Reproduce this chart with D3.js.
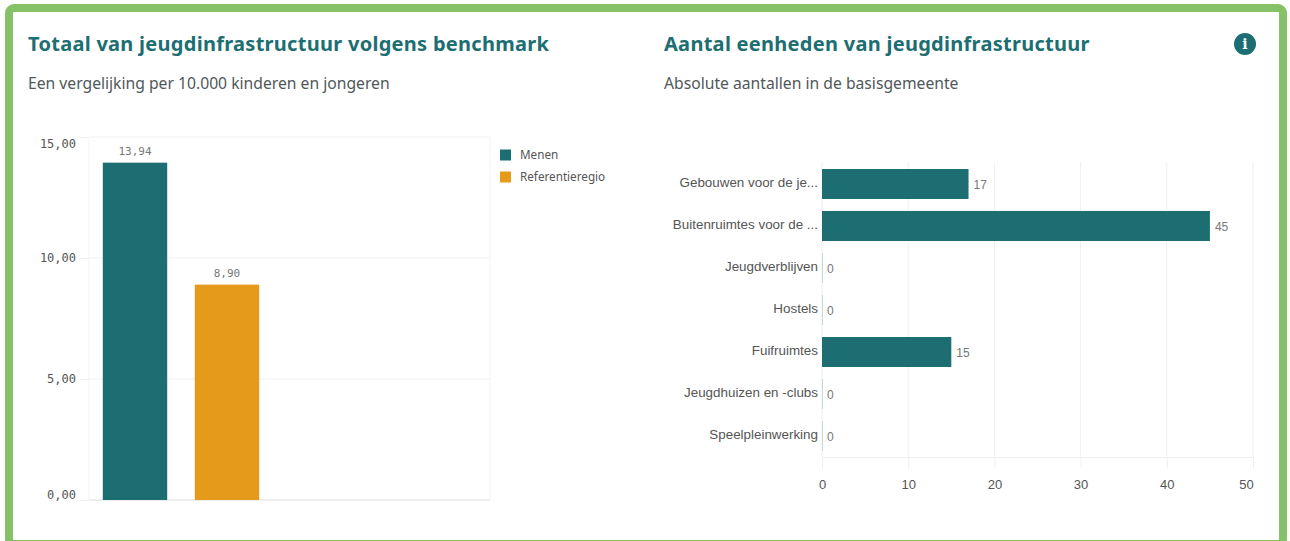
<!DOCTYPE html>
<html><head><meta charset="utf-8">
<script src="https://cdn.jsdelivr.net/npm/d3@7"></script>
<style>
html,body{margin:0;padding:0;background:#fff;overflow:hidden}
svg{display:block}
.title{font:700 20px "Noto Sans",sans-serif;fill:#1c6e72;letter-spacing:.28px}
.sub{font:400 15.7px "Noto Sans",sans-serif;fill:#50585a}
.mono{font-family:"DejaVu Sans Mono",monospace}
.sans{font-family:"Liberation Sans",Arial,sans-serif}
</style></head><body>
<svg id="c" width="1290" height="541"></svg>
<script>
const benchmarkNames = ["Menen", "Referentieregio"];
const benchmarkValues = [13.94, 8.90];
const benchmarkLabels = ["13,94", "8,90"];
const benchmarkColors = ["#1c6e72", "#e59a1c"];
const benchmarkTicks = [0, 5, 10, 15];
const unitCategories = ["Gebouwen voor de je...", "Buitenruimtes voor de ...", "Jeugdverblijven", "Hostels", "Fuifruimtes", "Jeugdhuizen en -clubs", "Speelpleinwerking"];
const unitValues = [17, 45, 0, 0, 15, 0, 0];
const unitTicks = [0, 10, 20, 30, 40, 50];
const titles = ["Totaal van jeugdinfrastructuur volgens benchmark", "Aantal eenheden van jeugdinfrastructuur"];
const subtitles = ["Een vergelijking per 10.000 kinderen en jongeren", "Absolute aantallen in de basisgemeente"];

const svg = d3.select("#c");
// card border
svg.append("rect").attr("x", 9).attr("y", 8).attr("width", 1274).attr("height", 536).attr("rx", 5)
  .attr("fill", "#fff").attr("stroke", "#85c167").attr("stroke-width", 8);

// headings
[[28, 0], [664, 1]].forEach(([x, i]) => {
  svg.append("text").attr("class", "title").attr("x", x).attr("y", 51).text(titles[i]);
  svg.append("text").attr("class", "sub").attr("x", x).attr("y", 89).text(subtitles[i]);
});
// info icon
svg.append("circle").attr("cx", 1245).attr("cy", 44).attr("r", 11).attr("fill", "#1c6e72");
svg.append("text").attr("x", 1245).attr("y", 49).attr("text-anchor", "middle")
  .attr("fill", "#fff").style("font", "700 14px 'DejaVu Serif',serif").text("i");

// left chart
const ly = d3.scaleLinear().domain([0, 15]).range([500, 137]);
const lx = d3.scaleBand().domain(benchmarkNames).range([89, 273]).paddingInner(0.3).paddingOuter(0.15);
const leftAxis = svg.append("g").attr("transform", "translate(89,0)")
  .call(d3.axisLeft(ly).tickValues(benchmarkTicks).tickSize(9).tickPadding(4)
    .tickFormat(d => d3.format(".2f")(d).replace(".", ",")));
leftAxis.select(".domain").remove();
leftAxis.selectAll("line").attr("stroke", "#efefef");
leftAxis.selectAll("text").attr("class", "mono").attr("fill", "#555").style("font-size", "12px")
  .attr("dy", d => d === 15 ? "0.9em" : d === 0 ? "-0.15em" : "0.32em");
svg.append("g").selectAll("line").data(benchmarkTicks).join("line")
  .attr("x1", 89).attr("x2", 490).attr("y1", d => ly(d)).attr("y2", d => ly(d))
  .attr("stroke", d => d === 0 ? "#e8e8e8" : "#f1f1f1").attr("stroke-width", d => d === 0 ? 1.5 : 1);
svg.append("g").selectAll("line").data([89, 490]).join("line")
  .attr("x1", d => d).attr("x2", d => d).attr("y1", ly(15)).attr("y2", ly(0))
  .attr("stroke", "#f3f3f3");
svg.append("g").selectAll("rect").data(benchmarkValues).join("rect")
  .attr("x", (d, i) => lx(benchmarkNames[i])).attr("width", lx.bandwidth())
  .attr("y", d => ly(d)).attr("height", d => ly(0) - ly(d))
  .attr("fill", (d, i) => benchmarkColors[i]);
svg.append("g").selectAll("text").data(benchmarkValues).join("text")
  .attr("class", "mono").attr("text-anchor", "middle")
  .attr("x", (d, i) => lx(benchmarkNames[i]) + lx.bandwidth() / 2).attr("y", d => ly(d) - 8)
  .attr("fill", "#777").style("font-size", "11px").text((d, i) => benchmarkLabels[i]);
const legendY = d3.scalePoint().domain(benchmarkNames).range([155, 177]);
const lg = svg.append("g").selectAll("g").data(benchmarkNames).join("g")
  .attr("transform", d => `translate(500,${legendY(d)})`);
lg.append("rect").attr("y", -5.5).attr("width", 11).attr("height", 11).attr("fill", (d, i) => benchmarkColors[i]);
lg.append("text").attr("x", 20).attr("y", 4).attr("fill", "#555")
  .style("font-size", "11.7px").style("font-family", "'Noto Sans',sans-serif").text(d => d);

// right chart
const rx = d3.scaleLinear().domain([0, 50]).range([822, 1253]);
const ry = d3.scaleBand().domain(unitCategories).range([163, 457]).paddingInner(12 / 42).paddingOuter(6 / 42);
const bottom = svg.append("g").attr("transform", "translate(0,457.5)")
  .call(d3.axisBottom(rx).tickValues(unitTicks).tickSize(11).tickPadding(11));
bottom.select(".domain").attr("stroke", "#edf0f1").attr("d", "M822,0H1253");
bottom.selectAll("line").attr("stroke", "#edf0f1");
bottom.selectAll("text").attr("class", "sans").attr("fill", "#555").style("font-size", "13px");
bottom.selectAll("text").filter(d => d === 50).attr("dx", -7);
svg.append("g").selectAll("line").data(unitTicks).join("line")
  .attr("x1", d => rx(d)).attr("x2", d => rx(d)).attr("y1", 162).attr("y2", 457).attr("stroke", "#edf0f1");
svg.append("g").selectAll("rect").data(unitValues).join("rect")
  .attr("x", rx(0)).attr("y", (d, i) => ry(unitCategories[i])).attr("height", ry.bandwidth())
  .attr("width", d => Math.max(rx(d) - rx(0), 1))
  .attr("fill", d => d === 0 ? "#c9d9da" : "#1c6e72");
svg.append("g").selectAll("text").data(unitValues).join("text")
  .attr("class", "sans").attr("x", d => rx(d) + 5).attr("y", (d, i) => ry(unitCategories[i]) + ry.bandwidth() / 2 + 5)
  .attr("fill", "#777").style("font-size", "12px").text(d => d);
svg.append("g").selectAll("text").data(unitCategories).join("text")
  .attr("class", "sans").attr("text-anchor", "end").attr("x", 818)
  .attr("y", d => ry(d) + ry.bandwidth() / 2 + 2.5).attr("fill", "#555").style("font-size", "13.4px").text(d => d);
</script>
</body></html>
